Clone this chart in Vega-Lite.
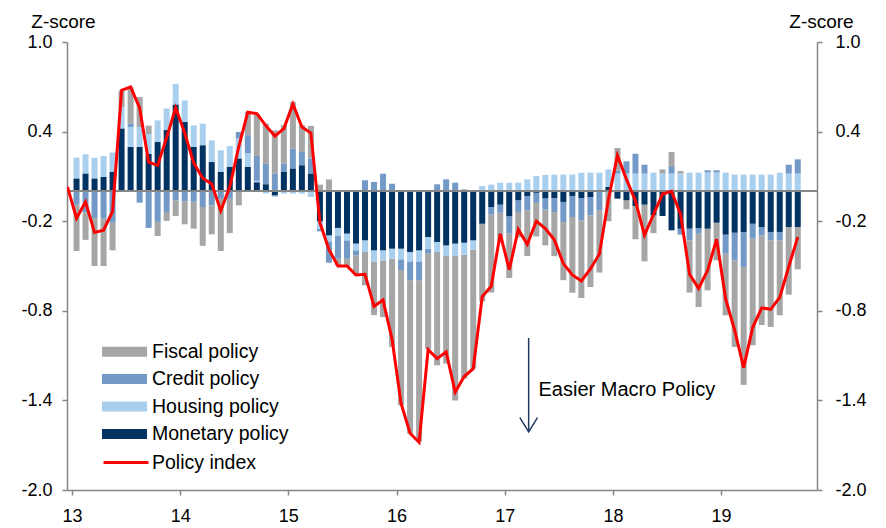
{
"$schema": "https://vega.github.io/schema/vega-lite/v6.json",
"width": 750, "height": 448,
"autosize": {"type": "none"},
"padding": {"left": 67, "top": 42, "right": 69, "bottom": 38},
"background": "white",
"config": {
  "view": {"stroke": null},
  "font": "Liberation Sans",
  "axis": {"domainColor": "#868686", "domainWidth": 1.5, "tickColor": "#868686", "tickWidth": 1.5, "tickSize": 5, "labelColor": "#000000", "labelFontSize": 18, "grid": false, "titleColor": "#000000", "titleFontSize": 19, "titleFontWeight": "normal"}
},
"datasets": {
  "stackrank": [
    {"series": "Monetary policy", "rank": 1},
    {"series": "Housing policy", "rank": 2},
    {"series": "Credit policy", "rank": 3},
    {"series": "Fiscal policy", "rank": 4}
  ]
},
"data": {"values": [
{"t": 12.9583, "Policy index": 0.03},
{"t": 13.0417, "Monetary policy": 0.085, "Housing policy": 0.14, "Credit policy": -0.09, "Fiscal policy": -0.31, "Policy index": -0.18},
{"t": 13.125, "Monetary policy": 0.118, "Housing policy": 0.13, "Credit policy": -0.14, "Fiscal policy": -0.185, "Policy index": -0.07},
{"t": 13.2083, "Monetary policy": 0.085, "Housing policy": 0.14, "Credit policy": -0.18, "Fiscal policy": -0.32, "Policy index": -0.275},
{"t": 13.2917, "Monetary policy": 0.096, "Housing policy": 0.14, "Credit policy": -0.18, "Fiscal policy": -0.32, "Policy index": -0.26},
{"t": 13.375, "Monetary policy": 0.13, "Housing policy": 0.13, "Credit policy": -0.21, "Fiscal policy": -0.185, "Policy index": -0.135},
{"t": 13.4583, "Monetary policy": 0.42, "Housing policy": 0.14, "Credit policy": 0, "Fiscal policy": 0.116, "Policy index": 0.676},
{"t": 13.5417, "Monetary policy": 0.297, "Housing policy": 0.134, "Credit policy": 0.022, "Fiscal policy": 0.245, "Policy index": 0.699},
{"t": 13.625, "Monetary policy": 0.297, "Housing policy": 0.134, "Credit policy": -0.076, "Fiscal policy": 0.2, "Policy index": 0.558},
{"t": 13.7083, "Monetary policy": 0.25, "Housing policy": 0.134, "Credit policy": -0.245, "Fiscal policy": 0.056, "Policy index": 0.196},
{"t": 13.7917, "Monetary policy": 0.33, "Housing policy": 0.145, "Credit policy": -0.205, "Fiscal policy": -0.094, "Policy index": 0.174},
{"t": 13.875, "Monetary policy": 0.41, "Housing policy": 0.145, "Credit policy": -0.138, "Fiscal policy": -0.06, "Policy index": 0.36},
{"t": 13.9583, "Monetary policy": 0.58, "Housing policy": 0.14, "Credit policy": -0.06, "Fiscal policy": -0.105, "Policy index": 0.56},
{"t": 14.0417, "Monetary policy": 0.464, "Housing policy": 0.145, "Credit policy": -0.067, "Fiscal policy": -0.154, "Policy index": 0.39},
{"t": 14.125, "Monetary policy": 0.297, "Housing policy": 0.145, "Credit policy": -0.07, "Fiscal policy": -0.18, "Policy index": 0.19},
{"t": 14.2083, "Monetary policy": 0.308, "Housing policy": 0.145, "Credit policy": -0.105, "Fiscal policy": -0.26, "Policy index": 0.088},
{"t": 14.2917, "Monetary policy": 0.196, "Housing policy": 0.145, "Credit policy": -0.094, "Fiscal policy": -0.194, "Policy index": 0.05},
{"t": 14.375, "Monetary policy": 0.13, "Housing policy": 0.145, "Credit policy": -0.05, "Fiscal policy": -0.35, "Policy index": -0.13},
{"t": 14.4583, "Monetary policy": 0.163, "Housing policy": 0.14, "Credit policy": -0.05, "Fiscal policy": -0.23, "Policy index": 0.03},
{"t": 14.5417, "Monetary policy": 0.219, "Housing policy": 0.134, "Credit policy": 0.045, "Fiscal policy": -0.094, "Policy index": 0.3},
{"t": 14.625, "Monetary policy": 0.163, "Housing policy": 0.09, "Credit policy": 0.123, "Fiscal policy": 0.156, "Policy index": 0.53},
{"t": 14.7083, "Monetary policy": 0.06, "Housing policy": 0.01, "Credit policy": 0.167, "Fiscal policy": 0.28, "Policy index": 0.52},
{"t": 14.7917, "Monetary policy": 0.047, "Housing policy": -0.015, "Credit policy": 0.138, "Fiscal policy": 0.268, "Policy index": 0.44},
{"t": 14.875, "Monetary policy": -0.027, "Housing policy": -0.01, "Credit policy": 0.118, "Fiscal policy": 0.29, "Policy index": 0.37},
{"t": 14.9583, "Monetary policy": 0.13, "Housing policy": -0.015, "Credit policy": 0.056, "Fiscal policy": 0.257, "Policy index": 0.42},
{"t": 15.0417, "Monetary policy": 0.152, "Housing policy": -0.015, "Credit policy": 0.134, "Fiscal policy": 0.313, "Policy index": 0.585},
{"t": 15.125, "Monetary policy": 0.174, "Housing policy": -0.015, "Credit policy": 0.09, "Fiscal policy": 0.18, "Policy index": 0.43},
{"t": 15.2083, "Monetary policy": 0.118, "Housing policy": -0.038, "Credit policy": 0.1, "Fiscal policy": 0.22, "Policy index": 0.39},
{"t": 15.2917, "Monetary policy": -0.2, "Housing policy": -0.05, "Credit policy": -0.018, "Fiscal policy": 0.045, "Policy index": -0.21},
{"t": 15.375, "Monetary policy": -0.295, "Housing policy": -0.04, "Credit policy": -0.143, "Fiscal policy": 0.08, "Policy index": -0.39},
{"t": 15.4583, "Monetary policy": -0.245, "Housing policy": -0.05, "Credit policy": -0.156, "Fiscal policy": -0.045, "Policy index": -0.5},
{"t": 15.5417, "Monetary policy": -0.283, "Housing policy": -0.045, "Credit policy": -0.123, "Fiscal policy": -0.056, "Policy index": -0.5},
{"t": 15.625, "Monetary policy": -0.35, "Housing policy": -0.045, "Credit policy": -0.033, "Fiscal policy": -0.134, "Policy index": -0.56},
{"t": 15.7083, "Monetary policy": -0.328, "Housing policy": -0.078, "Credit policy": 0.074, "Fiscal policy": -0.223, "Policy index": -0.556},
{"t": 15.7917, "Monetary policy": -0.395, "Housing policy": -0.074, "Credit policy": 0.063, "Fiscal policy": -0.36, "Policy index": -0.77},
{"t": 15.875, "Monetary policy": -0.395, "Housing policy": -0.067, "Credit policy": 0.118, "Fiscal policy": -0.38, "Policy index": -0.728},
{"t": 15.9583, "Monetary policy": -0.384, "Housing policy": -0.067, "Credit policy": 0.051, "Fiscal policy": -0.59, "Policy index": -0.99},
{"t": 16.0417, "Monetary policy": -0.384, "Housing policy": -0.071, "Credit policy": -0.074, "Fiscal policy": -0.904, "Policy index": -1.42},
{"t": 16.125, "Monetary policy": -0.406, "Housing policy": -0.063, "Credit policy": -0.127, "Fiscal policy": -1.027, "Policy index": -1.62},
{"t": 16.2083, "Monetary policy": -0.395, "Housing policy": -0.074, "Credit policy": -0.127, "Fiscal policy": -1.08, "Policy index": -1.68},
{"t": 16.2917, "Monetary policy": -0.306, "Housing policy": -0.078, "Credit policy": -0.033, "Fiscal policy": -0.64, "Policy index": -1.06},
{"t": 16.375, "Monetary policy": -0.339, "Housing policy": -0.067, "Credit policy": 0.047, "Fiscal policy": -0.759, "Policy index": -1.12},
{"t": 16.4583, "Monetary policy": -0.362, "Housing policy": -0.071, "Credit policy": 0.08, "Fiscal policy": -0.72, "Policy index": -1.075},
{"t": 16.5417, "Monetary policy": -0.35, "Housing policy": -0.083, "Credit policy": 0.058, "Fiscal policy": -0.967, "Policy index": -1.345},
{"t": 16.625, "Monetary policy": -0.344, "Housing policy": -0.08, "Credit policy": 0.013, "Fiscal policy": -0.83, "Policy index": -1.24},
{"t": 16.7083, "Monetary policy": -0.328, "Housing policy": -0.062, "Credit policy": 0, "Fiscal policy": -0.797, "Policy index": -1.188},
{"t": 16.7917, "Monetary policy": -0.217, "Housing policy": 0.036, "Credit policy": 0, "Fiscal policy": -0.52, "Policy index": -0.705},
{"t": 16.875, "Monetary policy": -0.105, "Housing policy": 0.045, "Credit policy": -0.051, "Fiscal policy": -0.522, "Policy index": -0.636},
{"t": 16.9583, "Monetary policy": -0.089, "Housing policy": 0.058, "Credit policy": -0.054, "Fiscal policy": -0.2, "Policy index": -0.284},
{"t": 17.0417, "Monetary policy": -0.167, "Housing policy": 0.058, "Credit policy": -0.116, "Fiscal policy": -0.297, "Policy index": -0.525},
{"t": 17.125, "Monetary policy": -0.06, "Housing policy": 0.058, "Credit policy": -0.078, "Fiscal policy": -0.17, "Policy index": -0.255},
{"t": 17.2083, "Monetary policy": -0.031, "Housing policy": 0.08, "Credit policy": -0.096, "Fiscal policy": -0.306, "Policy index": -0.355},
{"t": 17.2917, "Monetary policy": -0.01, "Housing policy": 0.103, "Credit policy": -0.067, "Fiscal policy": -0.225, "Policy index": -0.2},
{"t": 17.375, "Monetary policy": -0.047, "Housing policy": 0.11, "Credit policy": -0.075, "Fiscal policy": -0.24, "Policy index": -0.25},
{"t": 17.4583, "Monetary policy": -0.045, "Housing policy": 0.112, "Credit policy": -0.094, "Fiscal policy": -0.295, "Policy index": -0.325},
{"t": 17.5417, "Monetary policy": -0.071, "Housing policy": 0.112, "Credit policy": -0.134, "Fiscal policy": -0.39, "Policy index": -0.484},
{"t": 17.625, "Monetary policy": -0.031, "Housing policy": 0.112, "Credit policy": -0.141, "Fiscal policy": -0.507, "Policy index": -0.56},
{"t": 17.7083, "Monetary policy": -0.045, "Housing policy": 0.125, "Credit policy": -0.15, "Fiscal policy": -0.52, "Policy index": -0.6},
{"t": 17.7917, "Monetary policy": -0.038, "Housing policy": 0.125, "Credit policy": -0.123, "Fiscal policy": -0.48, "Policy index": -0.52},
{"t": 17.875, "Monetary policy": 0, "Housing policy": 0.125, "Credit policy": -0.127, "Fiscal policy": -0.417, "Policy index": -0.42},
{"t": 17.9583, "Monetary policy": 0.029, "Housing policy": 0.118, "Credit policy": 0, "Fiscal policy": -0.2, "Policy index": -0.055},
{"t": 18.0417, "Monetary policy": -0.049, "Housing policy": 0.118, "Credit policy": 0.022, "Fiscal policy": 0.15, "Policy index": 0.24},
{"t": 18.125, "Monetary policy": -0.06, "Housing policy": 0.118, "Credit policy": 0.083, "Fiscal policy": -0.06, "Policy index": 0.08},
{"t": 18.2083, "Monetary policy": -0.098, "Housing policy": 0.118, "Credit policy": 0.134, "Fiscal policy": -0.223, "Policy index": -0.065},
{"t": 18.2917, "Monetary policy": -0.089, "Housing policy": 0.118, "Credit policy": 0.06, "Fiscal policy": -0.38, "Policy index": -0.293},
{"t": 18.375, "Monetary policy": -0.16, "Housing policy": 0.125, "Credit policy": 0, "Fiscal policy": -0.12, "Policy index": -0.155},
{"t": 18.4583, "Monetary policy": -0.165, "Housing policy": 0.118, "Credit policy": 0, "Fiscal policy": 0.029, "Policy index": -0.018},
{"t": 18.5417, "Monetary policy": -0.261, "Housing policy": 0.118, "Credit policy": 0.045, "Fiscal policy": 0.1, "Policy index": 0.0},
{"t": 18.625, "Monetary policy": -0.25, "Housing policy": 0.118, "Credit policy": -0.04, "Fiscal policy": 0.018, "Policy index": -0.152},
{"t": 18.7083, "Monetary policy": -0.25, "Housing policy": 0.125, "Credit policy": -0.078, "Fiscal policy": -0.35, "Policy index": -0.555},
{"t": 18.7917, "Monetary policy": -0.246, "Housing policy": 0.125, "Credit policy": -0.038, "Fiscal policy": -0.49, "Policy index": -0.65},
{"t": 18.875, "Monetary policy": -0.25, "Housing policy": 0.125, "Credit policy": 0.016, "Fiscal policy": -0.413, "Policy index": -0.53},
{"t": 18.9583, "Monetary policy": -0.21, "Housing policy": 0.125, "Credit policy": 0.016, "Fiscal policy": -0.252, "Policy index": -0.32},
{"t": 19.0417, "Monetary policy": -0.29, "Housing policy": 0.125, "Credit policy": -0.127, "Fiscal policy": -0.413, "Policy index": -0.72},
{"t": 19.125, "Monetary policy": -0.277, "Housing policy": 0.112, "Credit policy": -0.185, "Fiscal policy": -0.58, "Policy index": -0.93},
{"t": 19.2083, "Monetary policy": -0.272, "Housing policy": 0.112, "Credit policy": -0.234, "Fiscal policy": -0.79, "Policy index": -1.18},
{"t": 19.2917, "Monetary policy": -0.217, "Housing policy": 0.112, "Credit policy": -0.1, "Fiscal policy": -0.714, "Policy index": -0.912},
{"t": 19.375, "Monetary policy": -0.239, "Housing policy": 0.112, "Credit policy": -0.056, "Fiscal policy": -0.6, "Policy index": -0.78},
{"t": 19.4583, "Monetary policy": -0.272, "Housing policy": 0.112, "Credit policy": -0.056, "Fiscal policy": -0.58, "Policy index": -0.79},
{"t": 19.5417, "Monetary policy": -0.272, "Housing policy": 0.125, "Credit policy": -0.056, "Fiscal policy": -0.502, "Policy index": -0.71},
{"t": 19.625, "Monetary policy": -0.239, "Housing policy": 0.118, "Credit policy": 0.06, "Fiscal policy": -0.453, "Policy index": -0.505},
{"t": 19.7083, "Monetary policy": -0.239, "Housing policy": 0.118, "Credit policy": 0.096, "Fiscal policy": -0.283, "Policy index": -0.307}
]},
"layer": [
  {
    "transform": [
      {"fold": ["Fiscal policy", "Credit policy", "Housing policy", "Monetary policy"], "as": ["series", "value"]},
      {"lookup": "series", "from": {"data": {"name": "stackrank"}, "key": "series", "fields": ["rank"]}}
    ],
    "mark": {"type": "bar", "size": 6, "clip": true},
    "encoding": {
      "x": {"field": "t", "type": "quantitative", "scale": {"domain": [13, 19.84], "nice": false, "zero": false},
            "axis": {"values": [13, 14, 15, 16, 17, 18, 19], "format": "d", "labelDx": 5, "labelPadding": 12, "title": null, "labelFlush": false}},
      "y": {"field": "value", "type": "quantitative", "stack": "zero", "scale": {"domain": [-2, 1], "nice": false},
            "axis": {"orient": "left", "values": [-2, -1.4, -0.8, -0.2, 0.4, 1], "labelExpr": "datum.value < 0 ? '-' + format(-datum.value, '.1f') : format(datum.value, '.1f')", "labelPadding": 10, "title": "Z-score", "titleAngle": 0, "titleAlign": "center", "titleBaseline": "alphabetic", "titleX": -4, "titleY": -15}},
      "order": {"field": "rank", "type": "quantitative", "sort": "ascending"},
      "color": {"field": "series", "type": "nominal", "sort": ["Fiscal policy", "Credit policy", "Housing policy", "Monetary policy"],
                "scale": {"range": ["#A6A6A6", "#7399C6", "#A9CFEF", "#003262"]},
                "legend": {"orient": "none", "legendX": 47.5, "legendY": 299.7, "title": null, "symbolType": "M-2.25,-0.5H2.25V0.5H-2.25Z", "symbolSize": 400, "symbolStrokeWidth": 0, "labelFontSize": 19.5, "labelOffset": 17.5, "rowPadding": 7.4, "padding": 0, "labelColor": "#000000", "symbolOpacity": 1}}
    }
  },
  {
    "mark": {"type": "rule", "color": "#868686", "strokeWidth": 1.5},
    "encoding": {"y": {"datum": 0, "type": "quantitative", "scale": {"domain": [-2, 1], "nice": false}, "axis": null}}
  },
  {
    "transform": [{"fold": ["Policy index"], "as": ["idx", "pv"]}],
    "mark": {"type": "line", "strokeWidth": 3, "clip": true},
    "encoding": {
      "x": {"field": "t", "type": "quantitative"},
      "y": {"field": "pv", "type": "quantitative", "scale": {"domain": [-2, 1], "nice": false},
            "axis": {"orient": "right", "values": [-2, -1.4, -0.8, -0.2, 0.4, 1], "labelExpr": "datum.value < 0 ? '-' + format(-datum.value, '.1f') : format(datum.value, '.1f')", "labelPadding": 13, "labelAlign": "left", "title": "Z-score", "titleAngle": 0, "titleAlign": "center", "titleBaseline": "alphabetic", "titleX": 4, "titleY": -15}},
      "stroke": {"field": "idx", "type": "nominal", "scale": {"range": ["#FF0000"]},
                 "legend": {"orient": "none", "legendX": 47.5, "legendY": 409, "title": null, "symbolType": "M-2.25,0H2.25", "symbolSize": 400, "symbolStrokeWidth": 3, "labelFontSize": 19.5, "labelOffset": 14.5, "padding": 0, "labelColor": "#000000"}}
    }
  },
  {
    "data": {"values": [{"x": 17.221, "y": -0.982, "y2": -1.607}]},
    "mark": {"type": "rule", "color": "#1F3A60", "strokeWidth": 1.5},
    "encoding": {
      "x": {"field": "x", "type": "quantitative"},
      "y": {"field": "y", "type": "quantitative", "scale": {"domain": [-2, 1], "nice": false}, "axis": null},
      "y2": {"field": "y2"}
    }
  },
  {
    "data": {"values": [{"x": 17.221, "y": -1.563}]},
    "mark": {"type": "point", "shape": "M-1,-0.8L0,0.8L1,-0.8", "filled": false, "size": 310, "stroke": "#1F3A60", "strokeWidth": 1.5, "opacity": 1},
    "encoding": {
      "x": {"field": "x", "type": "quantitative"},
      "y": {"field": "y", "type": "quantitative", "scale": {"domain": [-2, 1], "nice": false}, "axis": null}
    }
  },
  {
    "data": {"values": [{"x": 17.312, "y": -1.371, "label": "Easier Macro Policy"}]},
    "mark": {"type": "text", "align": "left", "baseline": "alphabetic", "fontSize": 20, "color": "#000000"},
    "encoding": {
      "x": {"field": "x", "type": "quantitative"},
      "y": {"field": "y", "type": "quantitative", "scale": {"domain": [-2, 1], "nice": false}, "axis": null},
      "text": {"field": "label"}
    }
  }
],
"resolve": {"scale": {"y": "independent"}}
}
